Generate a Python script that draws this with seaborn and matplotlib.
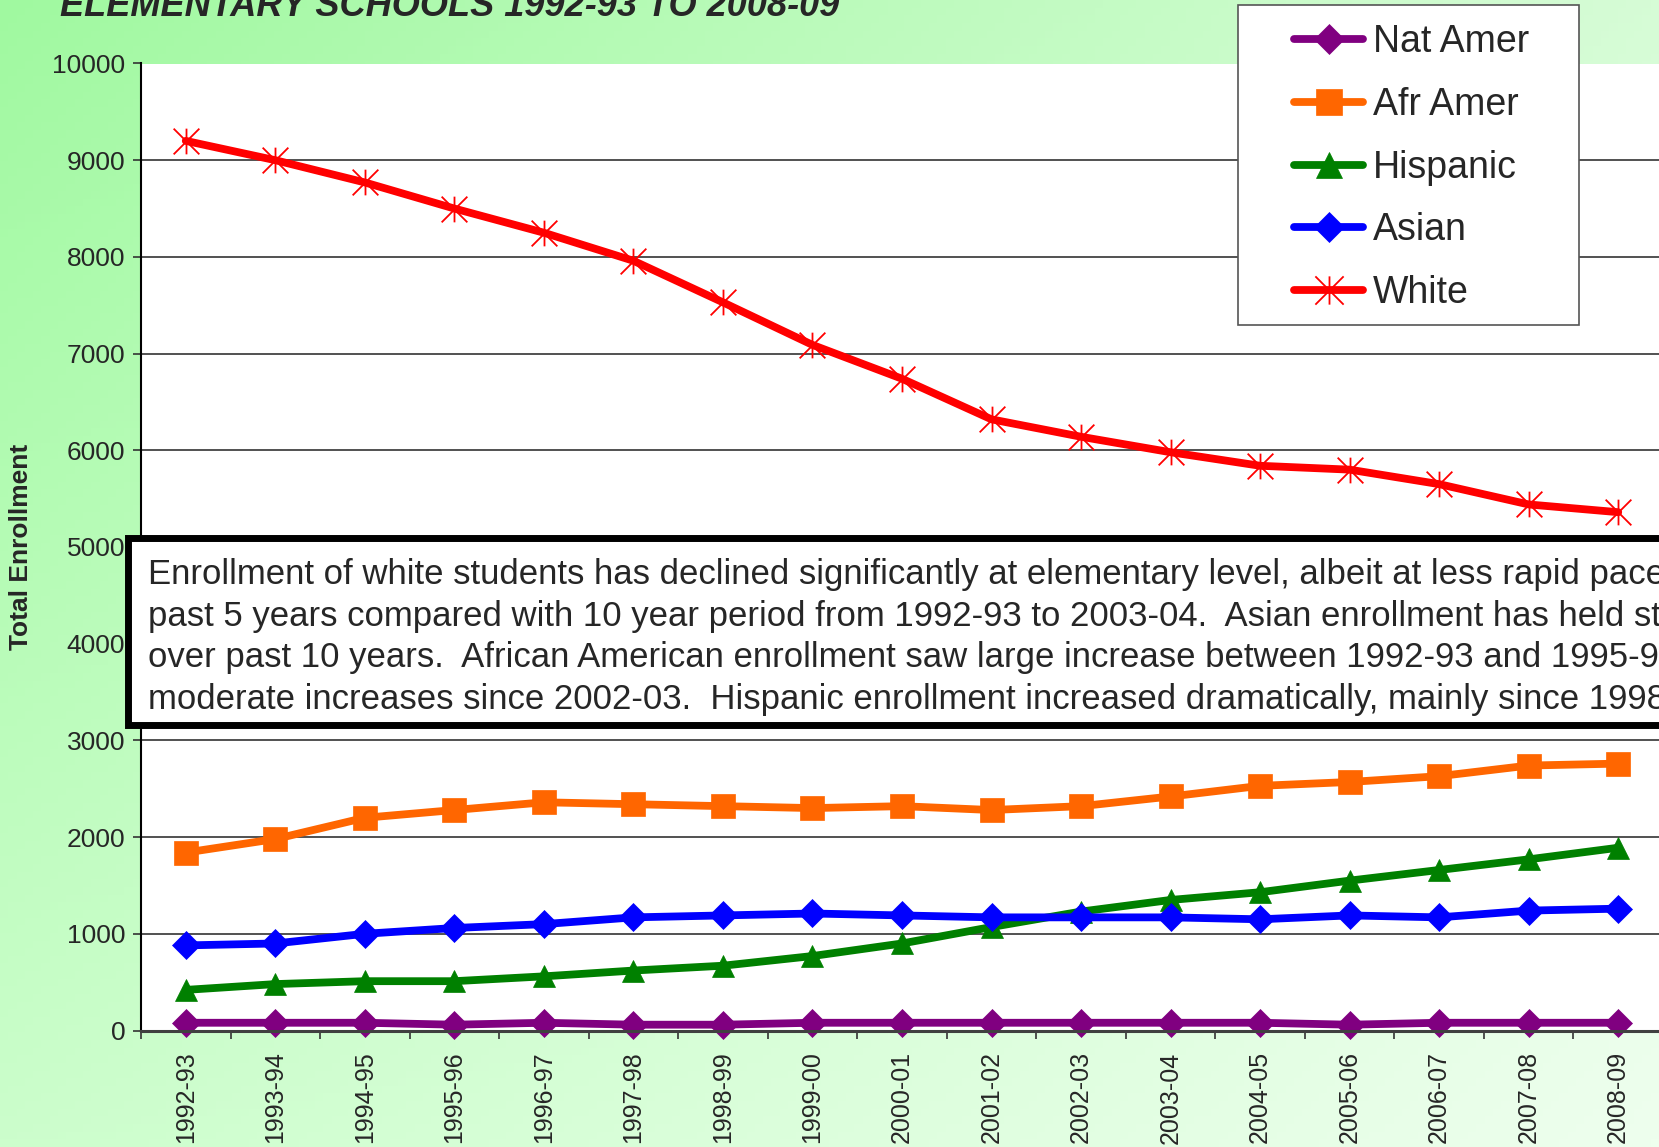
import numpy as np
import pandas as pd
import matplotlib
matplotlib.use("Agg")
import matplotlib.pyplot as plt
import seaborn as sns
from matplotlib.patches import Rectangle
from matplotlib.path import Path

# ==============================================================================
# DATA
# ==============================================================================
years = ["1992-93", "1993-94", "1994-95", "1995-96", "1996-97", "1997-98",
         "1998-99", "1999-00", "2000-01", "2001-02", "2002-03", "2003-04",
         "2004-05", "2005-06", "2006-07", "2007-08", "2008-09"]

nat_amer = [80, 80, 80, 60, 80, 60, 60, 80, 80, 80, 80, 80, 80, 60, 80, 80, 80]
afr_amer = [1840, 1980, 2200, 2280, 2360, 2340, 2320, 2300, 2320, 2280,
            2320, 2420, 2530, 2570, 2630, 2740, 2760]
hispanic = [420, 480, 510, 510, 560, 620, 670, 770, 900, 1070,
            1230, 1350, 1430, 1550, 1660, 1770, 1890]
asian = [880, 900, 1000, 1060, 1100, 1170, 1190, 1210, 1190, 1170,
         1170, 1170, 1150, 1190, 1170, 1240, 1260]
white = [9200, 9000, 8770, 8500, 8250, 7960, 7530, 7090, 6740, 6320,
         6140, 5980, 5840, 5800, 5650, 5440, 5360]

groups = ["Nat Amer", "Afr Amer", "Hispanic", "Asian", "White"]
yticks = list(range(0, 10001, 1000))

title = "ELEMENTARY SCHOOLS 1992-93 TO 2008-09"
ylabel = "Total Enrollment"
note_lines = [
    "Enrollment of white students has declined significantly at elementary level, albeit at less rapid pace over",
    "past 5 years compared with 10 year period from 1992-93 to 2003-04.  Asian enrollment has held steady",
    "over past 10 years.  African American enrollment saw large increase between 1992-93 and 1995-96,",
    "moderate increases since 2002-03.  Hispanic enrollment increased dramatically, mainly since 1998-99.",
]

df = pd.DataFrame({
    "Year": years * 5,
    "Enrollment": nat_amer + afr_amer + hispanic + asian + white,
    "Group": [g for g in groups for _ in years],
})

# ==============================================================================
# STYLE
# ==============================================================================
sns.set_style("ticks")
plt.rcParams["font.family"] = ["Liberation Sans", "DejaVu Sans"]

colors = {"Nat Amer": "#800080", "Afr Amer": "#FF6600", "Hispanic": "#008000",
          "Asian": "#0000FF", "White": "#FF0000"}
star = Path([(0, -1), (0, 1), (-1, -1), (1, 1), (-1, 1), (1, -1)],
            [Path.MOVETO, Path.LINETO, Path.MOVETO, Path.LINETO, Path.MOVETO, Path.LINETO])
markers = {"Nat Amer": "D", "Afr Amer": "s", "Hispanic": "^", "Asian": "D", "White": star}
msizes = {"Nat Amer": 14, "Afr Amer": 17, "Hispanic": 16.5, "Asian": 14, "White": 18.5}

W, H = 1659, 1147
fig = plt.figure(figsize=(W / 100, H / 100), dpi=100)

# gradient background
bg = fig.add_axes([0, 0, 1, 1], zorder=-10)
tl = np.array([160, 249, 160]) / 255
tr = np.array([214, 252, 214]) / 255
bl = np.array([204, 254, 204]) / 255
br = np.array([238, 255, 238]) / 255
u = np.linspace(0, 1, 200)[None, :, None]
v = np.linspace(0, 1, 150)[:, None, None]
grad = (1 - v) * ((1 - u) * tl + u * tr) + v * ((1 - u) * bl + u * br)
bg.imshow(grad, aspect="auto", extent=[0, 1, 0, 1], origin="upper")
bg.axis("off")

ax = fig.add_axes([141 / W, 1 - 1030.5 / H, (1663 - 141) / W, (1030.5 - 63.5) / H])
ax.set_facecolor("white")

sns.lineplot(data=df, x="Year", y="Enrollment", hue="Group", style="Group",
             hue_order=groups, style_order=groups, palette=colors, markers=markers,
             dashes=False, linewidth=5.6, sort=False, legend=False, ax=ax)

for line, g in zip(ax.lines, groups):
    line.set_markersize(msizes[g])
    line.set_markeredgecolor(colors[g])
    line.set_markerfacecolor("none" if g == "White" else colors[g])
    line.set_markeredgewidth(1.3 if g == "White" else 0.5)
    line.set_clip_on(False)

ax.set_xlim(-0.5, len(years) - 0.5)
ax.set_ylim(0, 10000)
ax.set_yticks(yticks)
ax.set_yticklabels([str(t) for t in yticks], fontsize=19)
ax.set_xticks(range(len(years)))
ax.set_xticklabels(years, rotation=90, fontsize=18)
ax.set_xticks(np.arange(-0.5, len(years), 1), minor=True)
ax.tick_params(axis="x", which="major", length=0, pad=15)
ax.tick_params(axis="x", which="minor", length=5.8, width=1.2, color="#333333", direction="out")
ax.tick_params(axis="y", length=5.8, width=1.2, color="#333333", pad=5.5, direction="out")
ax.set_xlabel("")
ax.set_ylabel("")
ax.yaxis.grid(True, color="#333333", linewidth=1.2)
ax.xaxis.grid(False)
ax.set_axisbelow(True)
for side in ["top", "right"]:
    ax.spines[side].set_visible(False)
ax.spines["left"].set_color("black")
ax.spines["left"].set_linewidth(1.5)
ax.spines["bottom"].set_color("#404040")
ax.spines["bottom"].set_linewidth(2.2)

# title (cut off at top, as in the source) and y label
fig.text(60 / W, 1 - 16 / H, title, fontsize=26, fontweight="bold", fontstyle="italic",
         ha="left", va="baseline")
fig.text(21 / W, 1 - 547 / H, ylabel, fontsize=19, fontweight="bold", rotation=90,
         ha="center", va="center")

# note box (runs off the right edge, as in the source)
fig.add_artist(Rectangle((128 / W, 1 - 725 / H), 1.0, (725 - 538) / H, transform=fig.transFigure,
                         facecolor="white", edgecolor="black", linewidth=5, zorder=4))
baselines = [584, 626, 667, 709]
for txt, yb in zip(note_lines, baselines):
    fig.text(148 / W, 1 - yb / H, txt, fontsize=25.0, ha="left", va="baseline", zorder=5)

# legend with its own frame
fig.add_artist(Rectangle((1238 / W, 1 - 325 / H), (1579 - 1238) / W, (325 - 5) / H,
                         transform=fig.transFigure, facecolor="white", edgecolor="#555555",
                         linewidth=1.2, zorder=4))
leg = fig.legend(ax.lines[:5], groups, loc="upper left", bbox_to_anchor=(1294 / W, 1 - 24.5 / H),
                 frameon=False, fontsize=27, handlelength=1.84, handletextpad=0.27,
                 labelspacing=0.71, borderpad=0, borderaxespad=0, markerscale=1.1)
leg.set_zorder(5)

fig.savefig("out.png", dpi=100)
